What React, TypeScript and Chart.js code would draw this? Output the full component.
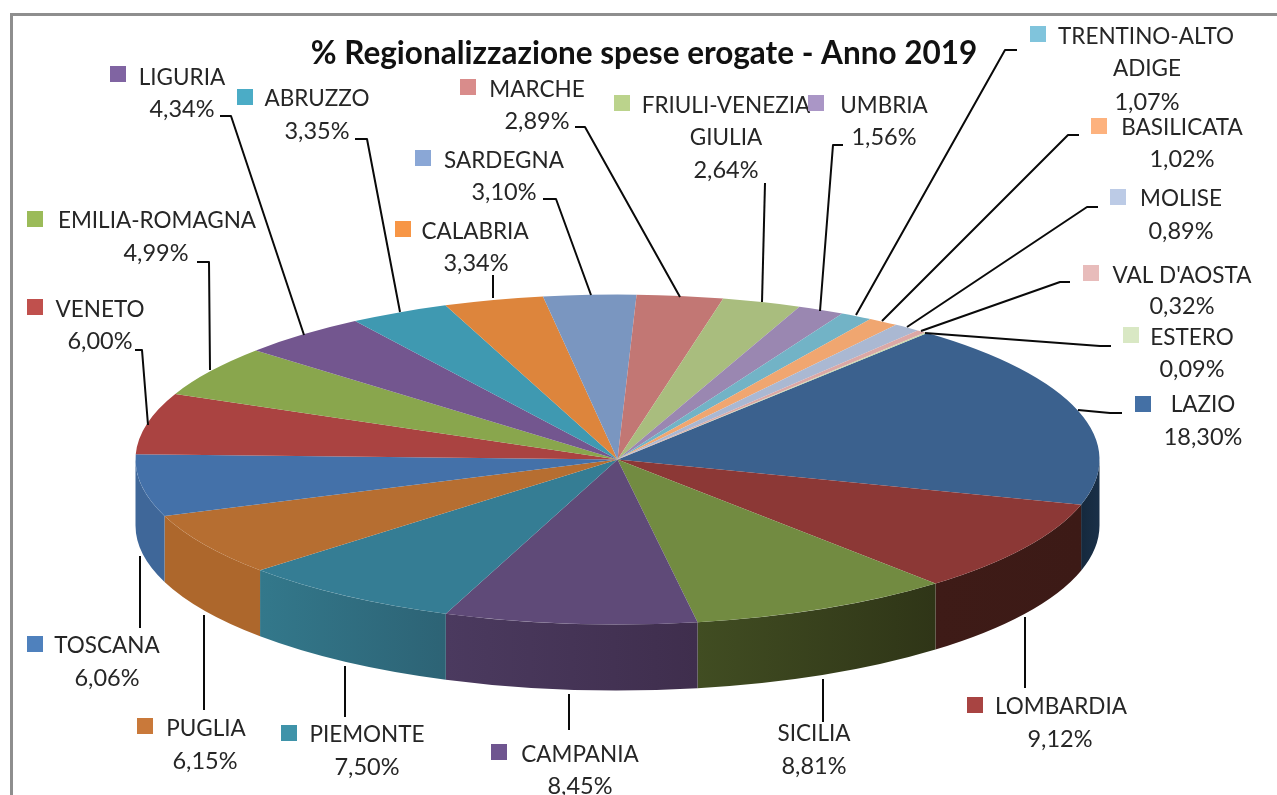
import React, { useEffect, useRef } from "react";
import { Chart, registerables } from "chart.js";

Chart.register(...registerables);

const TITLE = "% Regionalizzazione spese erogate - Anno 2019";

const regions = [
  "LAZIO", "LOMBARDIA", "SICILIA", "CAMPANIA", "PIEMONTE", "PUGLIA", "TOSCANA",
  "VENETO", "EMILIA-ROMAGNA", "LIGURIA", "ABRUZZO", "CALABRIA", "SARDEGNA", "MARCHE",
  "FRIULI-VENEZIA GIULIA", "UMBRIA", "TRENTINO-ALTO ADIGE", "BASILICATA", "MOLISE",
  "VAL D'AOSTA", "ESTERO",
];

const shares = [
  18.3, 9.12, 8.81, 8.45, 7.5, 6.15, 6.06, 6.0, 4.99, 4.34, 3.35, 3.34, 3.1, 2.89, 2.64,
  1.56, 1.07, 1.02, 0.89, 0.32, 0.09,
];

const topColors = [
  "#3b618e", "#8c3836", "#728b41", "#5f4a78", "#357d94", "#b66e31", "#4471a9",
  "#aa4341", "#89a64d", "#73568f", "#3f99b1", "#dd853c", "#7a96c0", "#c27774",
  "#a9bd7e", "#9a87b1", "#72b3c6", "#f0a670", "#aab8d2", "#dba8a6", "#c8d8ad",
];

const legendColors = [
  "#4470a5", "#a84442", null, "#6f5590", "#3f93a9", "#c9793a", "#4f81bd",
  "#c0504d", "#9bbb59", "#8064a2", "#4bacc6", "#f79646", "#8aa7d6", "#d98c8b",
  "#bbd38c", "#aa96c6", "#80c4dc", "#fdb27e", "#bccbe6", "#e8bcbb", "#d9e8c4",
];

// left-to-right shading of the visible side wall of each front slice
const wallColors: Record<number, [string, string]> = {
  0: ["#15293d", "#1a3048"],
  1: ["#3e1b17", "#3c1a16"],
  2: ["#414d22", "#2f3517"],
  3: ["#4b3a5f", "#3f2e4d"],
  4: ["#33788b", "#2d6375"],
  5: ["#ad672c", "#ad672c"],
  6: ["#3f6799", "#3f6799"],
};

// Page layout of the annotations: wrapped name lines, swatch corner, text centres, leader line.
type Note = { lines: string[]; sw: [number, number] | null; cx: number; y: number; pctX: number; pctY: number; leader: number[][] };
const notes: Note[] = [
  { lines: ["LAZIO"], sw: [1135, 396], cx: 1203, y: 405, pctX: 1203, pctY: 437, leader: [[1122, 413], [1110, 413], [1078, 410]] },
  { lines: ["LOMBARDIA"], sw: [967, 697], cx: 1061, y: 707, pctX: 1060, pctY: 739, leader: [[1025, 688], [1025, 617]] },
  { lines: ["SICILIA"], sw: null, cx: 814, y: 734, pctX: 814, pctY: 766, leader: [[823, 722], [823, 679]] },
  { lines: ["CAMPANIA"], sw: [491, 744], cx: 580, y: 755, pctX: 580, pctY: 786, leader: [[569, 730], [569, 694]] },
  { lines: ["PIEMONTE"], sw: [281, 725], cx: 367, y: 735, pctX: 367, pctY: 767, leader: [[345, 717], [345, 666]] },
  { lines: ["PUGLIA"], sw: [137, 718], cx: 206, y: 729, pctX: 205, pctY: 761, leader: [[204, 710], [204, 615]] },
  { lines: ["TOSCANA"], sw: [27, 636], cx: 107, y: 646, pctX: 107, pctY: 678, leader: [[140, 628], [140, 556]] },
  { lines: ["VENETO"], sw: [27, 299], cx: 100, y: 310, pctX: 100, pctY: 341, leader: [[135, 350], [142, 350], [148, 425]] },
  { lines: ["EMILIA-ROMAGNA"], sw: [27, 211], cx: 157, y: 221, pctX: 156, pctY: 253, leader: [[197, 262], [209, 262], [210, 370]] },
  { lines: ["LIGURIA"], sw: [110, 66], cx: 182, y: 78, pctX: 182, pctY: 109, leader: [[220, 116], [231, 116], [304, 335]] },
  { lines: ["ABRUZZO"], sw: [237, 89], cx: 317, y: 99, pctX: 317, pctY: 131, leader: [[355, 139], [367, 139], [400, 312]] },
  { lines: ["CALABRIA"], sw: [395, 221], cx: 475, y: 232, pctX: 476, pctY: 263, leader: [[493, 275], [493, 298]] },
  { lines: ["SARDEGNA"], sw: [415, 150], cx: 504, y: 161, pctX: 504, pctY: 192, leader: [[543, 199], [556, 199], [591, 295]] },
  { lines: ["MARCHE"], sw: [460, 79], cx: 537, y: 90, pctX: 537, pctY: 121, leader: [[575, 127], [585, 127], [680, 297]] },
  { lines: ["FRIULI-VENEZIA", "GIULIA"], sw: [614, 95], cx: 726, y: 106, pctX: 726, pctY: 170, leader: [[765, 183], [762, 302]] },
  { lines: ["UMBRIA"], sw: [808, 95], cx: 884, y: 106, pctX: 884, pctY: 137, leader: [[843, 145], [833, 145], [820, 311]] },
  { lines: ["TRENTINO-ALTO", "ADIGE"], sw: [1030, 26], cx: 1146, y: 37, pctX: 1147, pctY: 102, leader: [[1017, 50], [1005, 50], [856, 315]] },
  { lines: ["BASILICATA"], sw: [1091, 118], cx: 1182, y: 128, pctX: 1182, pctY: 159, leader: [[1079, 135], [1068, 135], [882, 321]] },
  { lines: ["MOLISE"], sw: [1110, 189], cx: 1181, y: 199, pctX: 1181, pctY: 231, leader: [[1098, 207], [1087, 207], [907, 327]] },
  { lines: ["VAL D'AOSTA"], sw: [1083, 265], cx: 1182, y: 276, pctX: 1182, pctY: 306, leader: [[1070, 282], [1060, 282], [921, 331]] },
  { lines: ["ESTERO"], sw: [1123, 327], cx: 1192, y: 338, pctX: 1192, pctY: 369, leader: [[1111, 346], [1100, 346], [925, 333]] },
];

const PIE = { cx: 617.5, cy: 459.5, rx: 482, ry: 165, depth: 66 };
const NAME_FONT = "22.5px Lato, sans-serif";
const SHARE_FONT = "23.5px Lato, sans-serif";
const TEXT = "#262626";

const formatShare = (v: number) => v.toFixed(2).replace(".", ",") + "%";

const pie3d = {
  id: "pie3d",
  beforeDraw(chart: any) {
    const { ctx } = chart;
    ctx.save();
    ctx.strokeStyle = "#8e8e8e";
    ctx.lineWidth = 3;
    ctx.beginPath();
    ctx.moveTo(11.5, 795);
    ctx.lineTo(11.5, 14.5);
    ctx.lineTo(1277, 14.5);
    ctx.stroke();
    ctx.restore();
  },
  beforeDatasetsDraw(chart: any) {
    const { ctx } = chart;
    const arcs = chart.getDatasetMeta(0).data;
    ctx.save();
    const { cx, cy, rx, ry, depth } = PIE;
    // side wall: only the part of each slice that faces the viewer
    arcs.forEach((arc: any, i: number) => {
      const a = Math.max(arc.startAngle, 0);
      const b = Math.min(arc.endAngle, Math.PI);
      if (b <= a) return;
      const xa = cx + rx * Math.cos(a);
      const xb = cx + rx * Math.cos(b);
      const g = ctx.createLinearGradient(xb, 0, xa, 0);
      const [left, right] = wallColors[i] ?? [topColors[i], topColors[i]];
      g.addColorStop(0, left);
      g.addColorStop(1, right);
      ctx.fillStyle = g;
      ctx.beginPath();
      ctx.ellipse(cx, cy, rx, ry, 0, a, b);
      ctx.ellipse(cx, cy + depth, rx, ry, 0, b, a, true);
      ctx.closePath();
      ctx.fill();
    });
    // flatten the round pie into the tilted ellipse
    const first = arcs[0];
    const r = first.outerRadius;
    ctx.translate(cx, cy);
    ctx.scale(rx / r, ry / r);
    ctx.translate(-first.x, -first.y);
  },
  afterDatasetsDraw(chart: any) {
    chart.ctx.restore();
  },
  afterDraw(chart: any) {
    const { ctx } = chart;
    ctx.save();
    ctx.strokeStyle = "#0a0a0a";
    ctx.lineWidth = 2;
    ctx.lineJoin = "round";
    notes.forEach((n) => {
      ctx.beginPath();
      n.leader.forEach(([x, y], k) => (k ? ctx.lineTo(x, y) : ctx.moveTo(x, y)));
      ctx.stroke();
    });
    ctx.fillStyle = TEXT;
    ctx.textAlign = "center";
    ctx.textBaseline = "middle";
    notes.forEach((n, i) => {
      const swatch = legendColors[i];
      if (n.sw && swatch) {
        ctx.fillStyle = swatch;
        ctx.fillRect(n.sw[0], n.sw[1], 16, 16);
        ctx.fillStyle = TEXT;
      }
      ctx.font = NAME_FONT;
      n.lines.forEach((line, k) => ctx.fillText(line, k ? n.pctX : n.cx, n.y + 32 * k));
      ctx.font = SHARE_FONT;
      ctx.fillText(formatShare(shares[i]), n.pctX, n.pctY);
    });
    ctx.restore();
  },
};

export default function App() {
  const ref = useRef<HTMLCanvasElement>(null);
  useEffect(() => {
    if (!ref.current) return;
    const chart = new Chart(ref.current, {
      type: "pie",
      data: {
        labels: regions,
        datasets: [{ data: shares, backgroundColor: topColors, borderWidth: 0 }],
      },
      options: {
        responsive: false,
        animation: false,
        rotation: 40,
        layout: { padding: { left: 11 } },
        plugins: {
          legend: { display: false },
          tooltip: { enabled: false },
          title: {
            display: true,
            text: TITLE,
            color: "#111111",
            font: { family: "Lato, sans-serif", size: 31.5, weight: "bold" },
            padding: { top: 35, bottom: 0 },
          },
        },
      },
      plugins: [pie3d],
    } as any);
    return () => chart.destroy();
  }, []);
  return (
    <div style={{ position: "absolute", left: 0, top: 0, width: 1277, height: 795, background: "#fff", overflow: "hidden" }}>
      <canvas ref={ref} width={1277} height={795} style={{ display: "block" }} />
    </div>
  );
}
